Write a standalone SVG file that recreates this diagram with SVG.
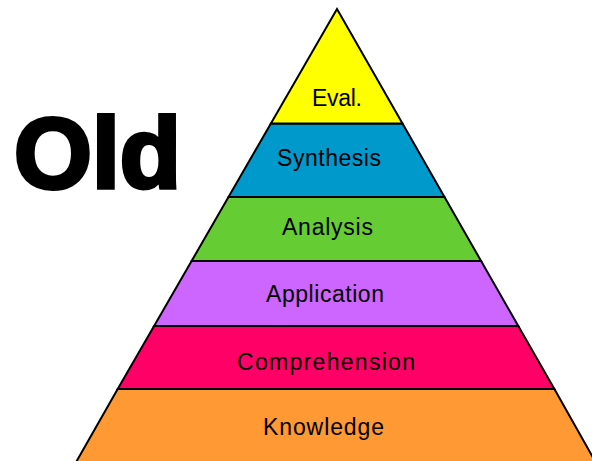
<svg xmlns="http://www.w3.org/2000/svg" width="592" height="461" viewBox="0 0 592 461">
<style>
.band{stroke:#000;stroke-width:2;stroke-linejoin:miter}
.lbl{font-family:"Liberation Sans",Arial,sans-serif;font-size:23px;fill:#000}
.title{font-family:"Liberation Sans",Arial,sans-serif;font-weight:bold;font-size:100px;fill:#000;stroke:#000;stroke-width:4}
</style>
<rect width="592" height="461" fill="#fff"/>
<g id="title"><text class="title" x="14" y="188" textLength="167" lengthAdjust="spacingAndGlyphs">Old</text></g>
<g id="knowledge">
<polygon class="band" fill="#FF9933" points="117.7,389 554.4,389 596.7,464 75,464"/>
<text class="lbl" x="263" y="435" textLength="121" lengthAdjust="spacing">Knowledge</text>
</g>
<g id="comprehension">
<polygon class="band" fill="#FF0066" points="154.1,326 518.3,326 554.4,389 117.7,389"/>
<text class="lbl" x="237" y="370" textLength="178" lengthAdjust="spacing">Comprehension</text>
</g>
<g id="application">
<polygon class="band" fill="#CC66FF" points="191.6,261 481.1,261 518.3,326 154.1,326"/>
<text class="lbl" x="266" y="302" textLength="118" lengthAdjust="spacing">Application</text>
</g>
<g id="analysis">
<polygon class="band" fill="#66CC33" points="228.5,197 444.5,197 481.1,261 191.6,261"/>
<text class="lbl" x="282" y="235" textLength="91" lengthAdjust="spacing">Analysis</text>
</g>
<g id="synthesis">
<polygon class="band" fill="#0099CC" points="270.9,123.5 402.5,123.5 444.5,197 228.5,197"/>
<text class="lbl" x="277" y="166" textLength="104" lengthAdjust="spacing">Synthesis</text>
</g>
<g id="evaluation">
<polygon class="band" fill="#FFFF00" points="337,9 402.5,123.5 270.9,123.5"/>
<text class="lbl" x="312" y="106" textLength="50" lengthAdjust="spacing">Eval.</text>
</g>
<g id="connectors"></g>
</svg>
